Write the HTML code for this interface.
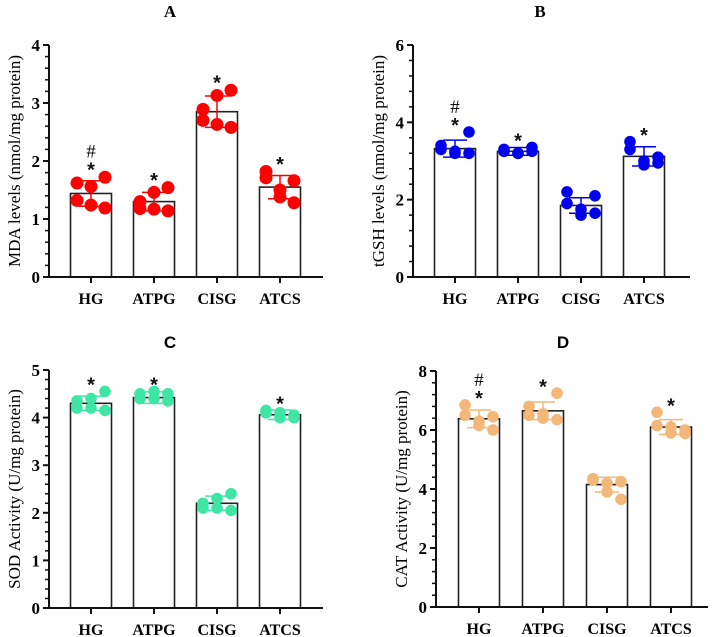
<!DOCTYPE html>
<html><head><meta charset="utf-8"><style>
body{margin:0;background:#fff;width:716px;height:637px;overflow:hidden}
svg{display:block}
</style></head><body>
<svg id="chart" width="716" height="637" xmlns="http://www.w3.org/2000/svg"></svg>
<script>
const categories = ["HG","ATPG","CISG","ATCS"];
const meansA = [1.44,1.30,2.85,1.55];
const sdA = [0.22,0.16,0.27,0.20];
const ptsA = [[1.62,1.56,1.72,1.32,1.24,1.19],[1.30,1.46,1.54,1.18,1.17,1.14],[2.70,3.13,3.22,2.89,2.63,2.58],[1.71,1.50,1.66,1.82,1.38,1.28]];
const marksA = ["#*","*","*","*"];
const meansB = [3.32,3.25,1.85,3.12];
const sdB = [0.22,0.10,0.20,0.25];
const ptsB = [[3.40,3.25,3.75,3.30,3.20,3.20],[3.30,3.20,3.35,3.25,3.20,3.25],[1.90,1.75,2.10,2.20,1.60,1.65],[3.30,3.00,3.10,3.50,2.90,2.95]];
const marksB = ["#*","*","","*"];
const meansC = [4.30,4.42,2.20,4.06];
const sdC = [0.15,0.12,0.15,0.10];
const ptsC = [[4.35,4.40,4.55,4.20,4.20,4.15],[4.50,4.55,4.50,4.40,4.40,4.35],[2.20,2.30,2.40,2.10,2.10,2.05],[4.15,4.10,4.05,4.10,4.00,4.00]];
const marksC = ["*","*","","*"];
const meansD = [6.38,6.65,4.15,6.10];
const sdD = [0.30,0.30,0.25,0.25];
const ptsD = [[6.50,6.30,6.45,6.85,6.15,6.00],[6.80,6.55,7.25,6.50,6.40,6.35],[4.30,4.20,4.25,4.35,3.90,3.65],[6.15,6.10,6.00,6.60,5.90,5.88]];
const marksD = ["#*","*","","*"];
const ticksA=[0,1,2,3,4], ticksB=[0,2,4,6], ticksC=[0,1,2,3,4,5], ticksD=[0,2,4,6,8];

const NS="http://www.w3.org/2000/svg";
const svg=document.getElementById('chart');
function mk(tag,attrs,parent){const e=document.createElementNS(NS,tag);for(const k in attrs)e.setAttribute(k,attrs[k]);(parent||svg).appendChild(e);return e;}
const serif='"Liberation Serif", serif', sans='"Liberation Sans", sans-serif';
const jx=[-14,0,14,-14,0,14];

function panel(o){
  const g=mk('g',{});
  
  
  const y=v=>o.y0-(v/o.max)*(o.y0-o.yTop);
  const x=i=>o.cx0+i*o.step;
  const t=mk('text',{x:o.tx,y:o.ty,'text-anchor':'middle','font-family':o.tfont,'font-weight':'bold','font-size':17},g);
  t.textContent=o.id;
  
  
  categories.forEach((c,i)=>{
    const b=mk('rect',{x:x(i)-20.5,y:y(o.means[i]),width:41,height:o.y0-y(o.means[i]),fill:'#fff',stroke:'#222','stroke-width':1.6},g);
    
    
  });
  categories.forEach((c,i)=>{
    o.pts[i].forEach((v,k)=>{
      const p=mk('circle',{cx:x(i)+jx[k],cy:y(v),r:o.r,fill:o.color},g);
      
      
    });
    const hi=y(o.means[i]+o.sd[i]), lo=y(o.means[i]-o.sd[i]);
    const e=mk('path',{d:`M${x(i)} ${hi}V${lo}M${x(i)-12} ${hi}H${x(i)+12}M${x(i)-12} ${lo}H${x(i)+12}`,stroke:o.color,'stroke-width':1.5,fill:'none'},g);
    
    
    const top=Math.min(hi,...o.pts[i].map(v=>y(v)-o.r));
    const mk1=o.marks[i];
    if(mk1.includes('*')){
      const s=mk('text',{x:x(i),y:top+6,'text-anchor':'middle','font-family':sans,'font-weight':'bold','font-size':20,fill:'#111'},g);
      s.textContent='*';
      
      
    }
    if(mk1.includes('#')){
      const h=mk('text',{x:x(i),y:top-13,'text-anchor':'middle','font-family':serif,'font-size':19,fill:'#111'},g);
      h.textContent='#';
      
      
    }
  });
  const ax=mk('path',{d:`M${o.ax} ${o.yTop}V${o.y0}H${o.axEnd}`,stroke:'#111','stroke-width':2,fill:'none'},g);
  
  
  const stepT=o.ticks[1]-o.ticks[0];
  for(let v=0;v<=o.max+1e-9;v+=stepT/5){
    const maj=Math.abs(v/stepT-Math.round(v/stepT))<1e-6;
    mk('line',{x1:o.ax-(maj?6:4),x2:o.ax,y1:y(v),y2:y(v),stroke:'#111','stroke-width':maj?2:1.5},g);
  }
  o.ticks.forEach(v=>{
    const tl=mk('text',{x:o.ax-9,y:y(v)+6,'text-anchor':'end','font-family':serif,'font-weight':'bold','font-size':17},g);
    tl.textContent=v;
    
    
  });
  categories.forEach((c,i)=>{
    mk('line',{x1:x(i),x2:x(i),y1:o.y0,y2:o.y0+6,stroke:'#111','stroke-width':2},g);
    const cl=mk('text',{x:x(i),y:o.y0+27,'text-anchor':'middle','font-family':serif,'font-weight':'bold','font-size':16},g);
    cl.textContent=c;
    
    
  });
  const yl=mk('text',{x:0,y:0,transform:`translate(${o.ylx},${(o.yTop+o.y0)/2}) rotate(-90)`,'text-anchor':'middle','font-family':serif,'font-size':17},g);
  yl.textContent=o.ylabel;
  
  
}
panel({id:'A',tfont:serif,tx:170,ty:17,means:meansA,sd:sdA,pts:ptsA,marks:marksA,ticks:ticksA,max:4,yTop:45,y0:277,ax:49,axEnd:323,cx0:91,step:63,color:'#ff0000',r:6.5,ylx:20,ylabel:'MDA levels (nmol/mg protein)'});
panel({id:'B',tfont:serif,tx:540,ty:17,means:meansB,sd:sdB,pts:ptsB,marks:marksB,ticks:ticksB,max:6,yTop:45,y0:277,ax:413,axEnd:690,cx0:455,step:63,color:'#0000ee',r:5.8,ylx:384,ylabel:'tGSH levels (nmol/mg protein)'});
panel({id:'C',tfont:sans,tx:170,ty:348,means:meansC,sd:sdC,pts:ptsC,marks:marksC,ticks:ticksC,max:5,yTop:370,y0:608,ax:49,axEnd:323,cx0:91,step:63,color:'#3ee6a6',r:5.8,ylx:20,ylabel:'SOD Activity (U/mg protein)'});
panel({id:'D',tfont:sans,tx:563,ty:348,means:meansD,sd:sdD,pts:ptsD,marks:marksD,ticks:ticksD,max:8,yTop:371,y0:607,ax:436,axEnd:708,cx0:479,step:64,color:'#f4b77a',r:5.8,ylx:407,ylabel:'CAT Activity (U/mg protein)'});
</script>
</body></html>
